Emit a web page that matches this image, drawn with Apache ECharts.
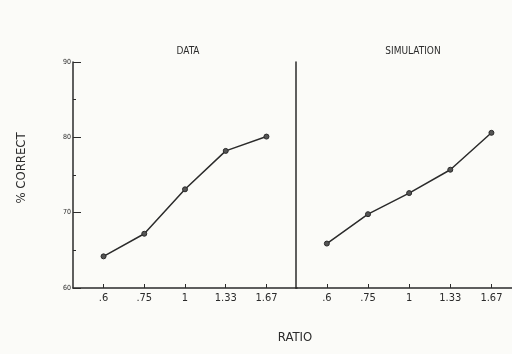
<!DOCTYPE html>
<html>
<head>
<meta charset="utf-8">
<script src="https://cdn.jsdelivr.net/npm/echarts@6/dist/echarts.min.js"></script>
<style>
  html, body { margin: 0; padding: 0; background: #fbfbf8; }
  #chart { width: 512px; height: 354px; }
</style>
</head>
<body>
<div id="chart"></div>
<script>
// ratio categories (same on both panels)
const ratios = [".6", ".75", "1", "1.33", "1.67"];
// % correct
const dataValues = [64.2, 67.2, 73.1, 78.2, 80.1];
const simValues = [65.9, 69.8, 72.6, 75.7, 80.6];
const yTicks = [60, 70, 80, 90];

const ink = "#2b2b2b";
const font = "DejaVu Sans Condensed";

function pts(vals) {
  return vals.map((v, i) => [i, v]);
}

function xAxis(gridIndex, max) {
  return {
    type: "value",
    gridIndex: gridIndex,
    min: -0.75,
    max: max,
    splitLine: { show: false },
    axisLine: { show: true, onZero: false, lineStyle: { color: ink, width: 1.5 } },
    axisTick: {
      show: true,
      inside: true,
      length: 4,
      customValues: [0, 1, 2, 3, 4],
      lineStyle: { color: ink },
    },
    axisLabel: {
      customValues: [0, 1, 2, 3, 4],
      formatter: (v) => ratios[Math.round(v)],
      color: ink,
      fontFamily: font,
      fontSize: 11,
      margin: 5,
    },
  };
}

let chart = echarts.init(document.getElementById("chart"));
let option = {
  backgroundColor: "#fbfbf8",
  animation: false,
  textStyle: { fontFamily: font },
  title: [
    { text: "DATA", left: 183, top: 41, textAlign: "center",
      textStyle: { fontSize: 10, fontWeight: "normal", color: ink, fontFamily: font } },
    { text: "SIMULATION", left: 408, top: 41, textAlign: "center",
      textStyle: { fontSize: 10, fontWeight: "normal", color: ink, fontFamily: font } },
    { text: "RATIO", left: 290, top: 326, textAlign: "center",
      textStyle: { fontSize: 13, fontWeight: "normal", color: ink, fontFamily: font } },
  ],
  graphic: [
    {
      type: "text",
      x: 22,
      y: 168,
      rotation: Math.PI / 2,
      style: {
        text: "% CORRECT",
        fill: ink,
        font: "13px 'DejaVu Sans Condensed'",
        align: "center",
        verticalAlign: "middle",
      },
    },
  ],
  grid: [
    { left: 73, right: 215, top: 62, bottom: 66 },
    { left: 296, right: 0, top: 62, bottom: 66 },
  ],
  xAxis: [xAxis(0, 4.75), xAxis(1, 4.5)],
  yAxis: [
    {
      type: "value",
      gridIndex: 0,
      min: 60,
      max: 90,
      interval: 10,
      splitLine: { show: false },
      axisLine: { show: true, onZero: false, lineStyle: { color: ink, width: 1.5 } },
      axisTick: { show: true, inside: true, length: 8, lineStyle: { color: ink } },
      minorTick: { show: true, splitNumber: 2, length: 3, lineStyle: { color: ink } },
      axisLabel: {
        color: ink,
        fontSize: 7,
        margin: 2,
        formatter: (v) => (yTicks.indexOf(v) >= 0 ? String(v) : ""),
      },
    },
    {
      type: "value",
      gridIndex: 1,
      min: 60,
      max: 90,
      interval: 10,
      splitLine: { show: false },
      axisLine: { show: true, onZero: false, lineStyle: { color: ink, width: 1.5 } },
      axisTick: { show: false },
      axisLabel: { show: false },
    },
  ],
  series: [
    {
      name: "DATA",
      type: "line",
      xAxisIndex: 0,
      yAxisIndex: 0,
      data: pts(dataValues),
      symbol: "circle",
      symbolSize: 5,
      lineStyle: { color: ink, width: 1.5 },
      itemStyle: { color: "#555", borderColor: ink, borderWidth: 1 },
    },
    {
      name: "SIMULATION",
      type: "line",
      xAxisIndex: 1,
      yAxisIndex: 1,
      data: pts(simValues),
      symbol: "circle",
      symbolSize: 5,
      lineStyle: { color: ink, width: 1.5 },
      itemStyle: { color: "#555", borderColor: ink, borderWidth: 1 },
    },
  ],
};
chart.setOption(option);
</script>
</body>
</html>
